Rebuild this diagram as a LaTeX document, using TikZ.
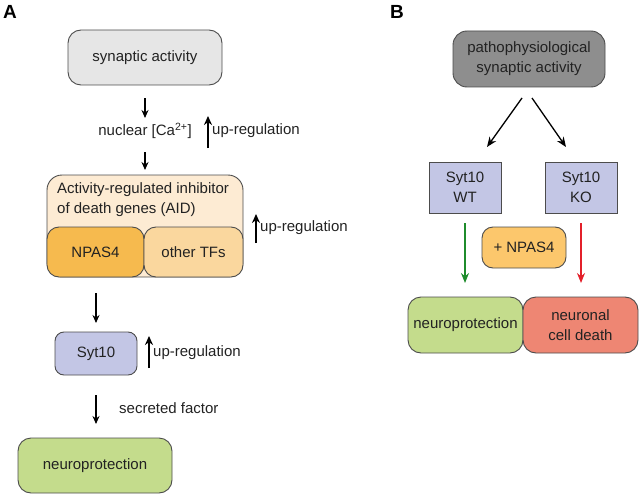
\documentclass[tikz,border=0pt]{standalone}
\usepackage{fontspec}
\setmainfont{Liberation Sans}
\usetikzlibrary{arrows.meta}
\definecolor{syngray}{HTML}{E6E6E6}
\definecolor{patgray}{HTML}{8E8E8E}
\definecolor{aidbg}{HTML}{FDEBD3}
\definecolor{npasor}{HTML}{F6BA4E}
\definecolor{othtf}{HTML}{FAD79E}
\definecolor{sytlav}{HTML}{C3C6E5}
\definecolor{neugreen}{HTML}{C4DC8C}
\definecolor{deathred}{HTML}{EE8673}
\definecolor{plusnp}{HTML}{FCC76C}
\definecolor{arrgreen}{HTML}{1F8C2C}
\definecolor{arrred}{HTML}{E3202A}
\definecolor{txt}{HTML}{222222}
\begin{document}
\begin{tikzpicture}[x=1pt,y=-1pt, font=\fontsize{15}{20}\selectfont, text=txt,
  box/.style={draw=black!70, line width=0.9pt, rounded corners=10pt, inner sep=0pt, align=center},
  arr/.style={-{Stealth[length=8pt,width=7pt]}, line width=1.1pt},
  darr/.style={-{Stealth[length=10pt,width=8pt]}, line width=1.3pt},
  uparr/.style={-{Stealth[length=9pt,width=8pt]}, line width=2.7pt},
  lbl/.style={inner sep=0pt, anchor=west},
  panel/.style={inner sep=0pt, font=\fontsize{19}{19}\selectfont\bfseries, text=black}]
\useasboundingbox (0,0) rectangle (640,495);

% Panel A
\node[panel] (labA) at (10,12) {A};
\node[box, fill=syngray, minimum width=154pt, minimum height=55pt, rounded corners=13pt] (syn) at (145,57.5) {synaptic activity};
\coordinate (a1s) at (145,98); \coordinate (a1e) at (145,118);
\draw[arr] (a1s) -- (a1e);
\node[inner sep=0pt] (nuc) at (145,131) {nuclear [Ca\textsuperscript{2+}]};
\coordinate (u1s) at (208,148); \coordinate (u1e) at (208,116);
\draw[uparr] (u1s) -- (u1e);
\node[lbl] (up1) at (212,131) {up-regulation};
\coordinate (a2s) at (145,152); \coordinate (a2e) at (145,170);
\draw[arr] (a2s) -- (a2e);

\node[box, fill=aidbg, minimum width=196pt, minimum height=102pt, rounded corners=15pt] (aid) at (145,226) {};
\node[lbl, anchor=north west, align=left] (aidtxt) at (57,182) {Activity-regulated inhibitor\\of death genes (AID)};
\node[box, fill=npasor, minimum width=97pt, minimum height=50pt, rounded corners=12pt] (npas) at (95.5,252) {NPAS4};
\node[box, fill=othtf, minimum width=99pt, minimum height=50pt, rounded corners=12pt] (oth) at (193.5,252) {other TFs};
\coordinate (u2s) at (256,243); \coordinate (u2e) at (256,214);
\draw[uparr] (u2s) -- (u2e);
\node[lbl] (up2) at (260,228) {up-regulation};

\coordinate (a3s) at (96,293); \coordinate (a3e) at (96,323);
\draw[arr] (a3s) -- (a3e);
\node[box, fill=sytlav, minimum width=82pt, minimum height=43pt, rounded corners=9pt] (syt) at (96,353.5) {Syt10};
\coordinate (u3s) at (149,368); \coordinate (u3e) at (149,336);
\draw[uparr] (u3s) -- (u3e);
\node[lbl] (up3) at (153,353) {up-regulation};

\coordinate (a4s) at (96,395); \coordinate (a4e) at (96,424);
\draw[arr] (a4s) -- (a4e);
\node[lbl] (sec) at (119,408) {secreted factor};
\node[box, fill=neugreen, minimum width=154pt, minimum height=55pt, rounded corners=13pt] (neuA) at (95,465.5) {neuroprotection};

% Panel B
\node[panel] (labB) at (397,12) {B};
\node[box, fill=patgray, minimum width=152pt, minimum height=56pt, rounded corners=14pt] (pat) at (529,59) {pathophysiological\\synaptic activity};
\coordinate (b1s) at (522,98); \coordinate (b1e) at (487,147);
\coordinate (b2s) at (532,98); \coordinate (b2e) at (566,147);
\draw[darr] (b1s) -- (b1e);
\draw[darr] (b2s) -- (b2e);
\node[box, fill=sytlav, minimum width=72pt, minimum height=51pt, rounded corners=0pt] (wt) at (465,187.5) {Syt10\\WT};
\node[box, fill=sytlav, minimum width=72pt, minimum height=51pt, rounded corners=0pt] (ko) at (581,187.5) {Syt10\\KO};
\coordinate (g1s) at (465,223); \coordinate (g1e) at (465,283);
\coordinate (r1s) at (581,223); \coordinate (r1e) at (581,283);
\draw[darr, draw=arrgreen, fill=arrgreen] (g1s) -- (g1e);
\draw[darr, draw=arrred, fill=arrred] (r1s) -- (r1e);
\node[box, fill=plusnp, minimum width=84pt, minimum height=41pt, rounded corners=11pt] (pn) at (524,247.5) {+ NPAS4};
\node[box, fill=neugreen, minimum width=115pt, minimum height=56pt, rounded corners=13pt] (neuB) at (465.5,325) {neuroprotection};
\node[box, fill=deathred, minimum width=115pt, minimum height=56pt, rounded corners=13pt] (death) at (580.5,325) {neuronal\\cell death};
\end{tikzpicture}
\end{document}
